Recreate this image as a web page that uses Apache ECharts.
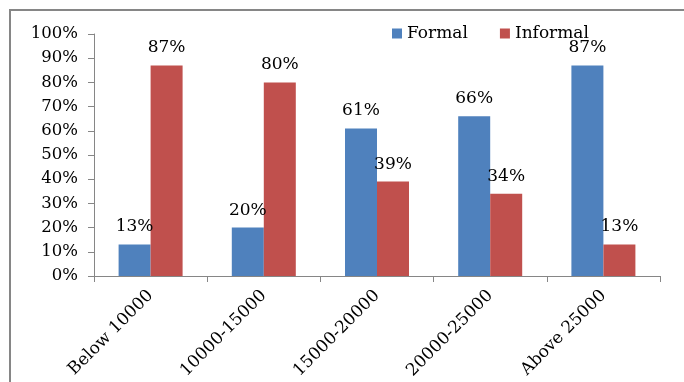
<!DOCTYPE html>
<html>
<head>
<meta charset="utf-8">
<script src="https://cdn.jsdelivr.net/npm/echarts@6/dist/echarts.min.js"></script>
<style>
  html, body { margin: 0; padding: 0; background: #fff; }
  #chart { width: 684px; height: 382px; }
</style>
</head>
<body>
<div id="chart"></div>
<script>
// Income bands and share of formal / informal employment (%)
const categories = ['Below 10000', '10000-15000', '15000-20000', '20000-25000', 'Above 25000'];
const formal = [13, 20, 61, 66, 87];
const informal = [87, 80, 39, 34, 13];
const yTicks = { min: 0, max: 100, step: 10 };

const FONT = 'DejaVu Serif';
const AXIS_GRAY = '#868686';

const chart = echarts.init(document.getElementById('chart'), null, { renderer: 'canvas' });

const valueLabel = {
  show: true,
  position: 'top',
  distance: 9,
  formatter: '{c}%',
  color: '#000',
  fontFamily: FONT,
  fontSize: 17
};

chart.setOption({
  backgroundColor: '#fff',
  animation: false,
  // frame lines along the top and left edge
  graphic: [
    {
      type: 'line',
      shape: { x1: 9, y1: 10, x2: 684, y2: 10 },
      style: { stroke: AXIS_GRAY, lineWidth: 2 },
      silent: true
    },
    {
      type: 'line',
      shape: { x1: 10, y1: 9, x2: 10, y2: 382 },
      style: { stroke: AXIS_GRAY, lineWidth: 2 },
      silent: true
    }
  ],
  legend: {
    left: 387,
    top: 20,
    itemWidth: 10,
    itemHeight: 10,
    itemGap: 32,
    icon: 'rect',
    textStyle: { fontFamily: FONT, fontSize: 17, color: '#000' },
    data: ['Formal', 'Informal']
  },
  grid: { left: 94, top: 34, right: 24, bottom: 106, containLabel: false },
  xAxis: {
    type: 'category',
    data: categories,
    axisLine: { lineStyle: { color: AXIS_GRAY, width: 1 } },
    axisTick: { show: true, length: 6, alignWithLabel: false, lineStyle: { color: AXIS_GRAY } },
    axisLabel: {
      rotate: 45,
      margin: 17,
      interval: 0,
      color: '#000',
      fontFamily: FONT,
      fontSize: 17
    }
  },
  yAxis: {
    type: 'value',
    min: yTicks.min,
    max: yTicks.max,
    interval: yTicks.step,
    axisLine: { show: true, lineStyle: { color: AXIS_GRAY, width: 1 } },
    axisTick: { show: true, length: 6, lineStyle: { color: AXIS_GRAY } },
    splitLine: { show: false },
    axisLabel: {
      formatter: '{value}%',
      margin: 16,
      color: '#000',
      fontFamily: FONT,
      fontSize: 16.5
    }
  },
  series: [
    {
      name: 'Formal',
      type: 'bar',
      data: formal,
      barWidth: 32,
      barGap: '0%',
      itemStyle: { color: '#4F81BD' },
      label: valueLabel
    },
    {
      name: 'Informal',
      type: 'bar',
      data: informal,
      barWidth: 32,
      itemStyle: { color: '#C0504D' },
      label: valueLabel
    }
  ]
});
</script>
</body>
</html>
